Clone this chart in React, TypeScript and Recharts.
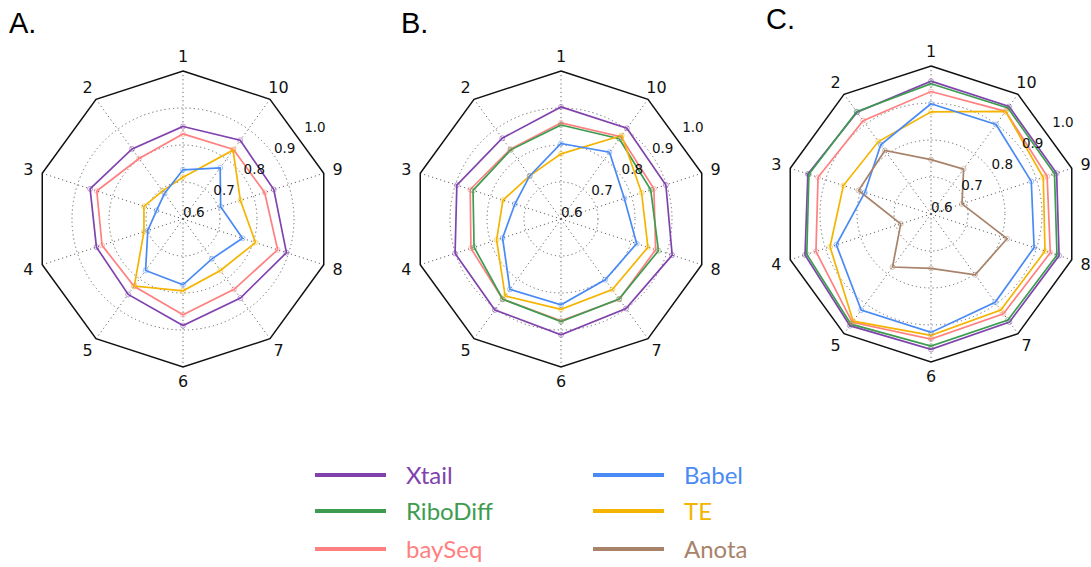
import * as React from "react";
import {
  RadarChart,
  Radar,
  PolarGrid,
  PolarAngleAxis,
  PolarRadiusAxis,
} from "recharts";

// axis labels; the chart runs counter-clockwise from the top
const categories = ["1", "2", "3", "4", "5", "6", "7", "8", "9", "10"];
const radialTicks = [0.6, 0.7, 0.8, 0.9, 1.0];
const gridTicks = [0.7, 0.8, 0.9];

// panel A
const xtailA = [0.85, 0.834, 0.864, 0.846, 0.852, 0.888, 0.864, 0.894, 0.858, 0.863];
const baySeqA = [0.83, 0.802, 0.845, 0.83, 0.825, 0.859, 0.835, 0.869, 0.832, 0.832];
const teA = [0.713, 0.694, 0.711, 0.711, 0.824, 0.794, 0.772, 0.806, 0.763, 0.83];
const babelA = [0.733, 0.685, 0.675, 0.7, 0.772, 0.778, 0.733, 0.769, 0.707, 0.771];

// panel B
const xtailB = [0.903, 0.87, 0.896, 0.901, 0.904, 0.913, 0.899, 0.916, 0.898, 0.903];
const riboB = [0.854, 0.831, 0.85, 0.847, 0.868, 0.877, 0.867, 0.877, 0.855, 0.868];
const baySeqB = [0.86, 0.833, 0.858, 0.856, 0.868, 0.875, 0.868, 0.869, 0.864, 0.875];
const teB = [0.776, 0.744, 0.765, 0.783, 0.857, 0.844, 0.836, 0.847, 0.829, 0.879];
const babelB = [0.804, 0.744, 0.731, 0.766, 0.835, 0.832, 0.803, 0.815, 0.78, 0.823];

// panel C
const xtailC = [0.959, 0.94, 0.95, 0.958, 0.973, 0.966, 0.961, 0.964, 0.957, 0.959];
const riboC = [0.952, 0.942, 0.947, 0.953, 0.968, 0.957, 0.954, 0.958, 0.951, 0.954];
const baySeqC = [0.931, 0.912, 0.921, 0.927, 0.962, 0.938, 0.933, 0.939, 0.93, 0.943];
const teC = [0.876, 0.842, 0.849, 0.887, 0.958, 0.928, 0.921, 0.924, 0.919, 0.943];
const babelC = [0.898, 0.831, 0.788, 0.869, 0.921, 0.92, 0.895, 0.893, 0.885, 0.899];
const anotaC = [0.747, 0.812, 0.806, 0.686, 0.777, 0.747, 0.803, 0.816, 0.688, 0.75];

const COLORS: Record<string, string> = {
  Xtail: "#8043ad",
  RiboDiff: "#3d9c4f",
  baySeq: "#ff8080",
  Babel: "#4a8af4",
  TE: "#f4b400",
  Anota: "#a8836a",
};

const legendLeft = ["Xtail", "RiboDiff", "baySeq"];
const legendRight = ["Babel", "TE", "Anota"];

const W = 360;
const H = 420;
const CX = 180;
const CY = 210;
const R = 148;
const DOMAIN: [number, number] = [0.6, 1.0];

// recharts goes clockwise, so walk the categories as 1, 10, 9, ... 2
const order = categories.map((_, i) => (i === 0 ? 0 : categories.length - i));

function buildRows(series: Record<string, number[]>) {
  return order.map((i) => {
    const row: Record<string, any> = { axis: categories[i] };
    Object.keys(series).forEach((k) => (row[k] = series[k][i]));
    return row;
  });
}

const panels = [
  { title: "A.", titleX: 9, titleY: 9, cx: 182.5, cy: 219.3, series: { Xtail: xtailA, baySeq: baySeqA, TE: teA, Babel: babelA } },
  { title: "B.", titleX: 401, titleY: 9, cx: 560.7, cy: 219, series: { Xtail: xtailB, baySeq: baySeqB, RiboDiff: riboB, TE: teB, Babel: babelB } },
  { title: "C.", titleX: 766, titleY: 5, cx: 930.7, cy: 214, series: { Xtail: xtailC, RiboDiff: riboC, baySeq: baySeqC, TE: teC, Babel: babelC, Anota: anotaC } },
];

const gridRadii = gridTicks.map((v) => (R * (v - DOMAIN[0])) / (DOMAIN[1] - DOMAIN[0]));

function AngleTick(props: any) {
  const { x, y, payload } = props;
  return (
    <text x={x} y={y} dy="0.36em" textAnchor="middle" fontSize={16} fill="#111" fontFamily="DejaVu Sans">
      {payload.value}
    </text>
  );
}

function RadiusTick(props: any) {
  const { x, y, payload } = props;
  return (
    <text x={x} y={y - 2.5} textAnchor="start" fontSize={13.5} fill="#111" fontFamily="DejaVu Sans">
      {payload.value.toFixed(1)}
    </text>
  );
}

function Panel({ p }: { p: (typeof panels)[number] }) {
  const rows = buildRows(p.series);
  return (
    <div style={{ position: "absolute", left: p.cx - CX, top: p.cy - CY, width: W, height: H }}>
      <RadarChart
        width={W}
        height={H}
        data={rows}
        cx={CX}
        cy={CY}
        outerRadius={R}
        margin={{ top: 0, right: 0, bottom: 0, left: 0 }}
      >
        <PolarGrid
          gridType="circle"
          polarRadius={gridRadii}
          stroke="#666"
          strokeDasharray="1.2 3"
          strokeWidth={1}
        />
        <PolarAngleAxis
          dataKey="axis"
          axisLineType="polygon"
          axisLine={{ stroke: "#111", strokeWidth: 1.5 }}
          tickLine={false}
          tickSize={14.5}
          tick={<AngleTick />}
        />
        <PolarRadiusAxis
          domain={DOMAIN}
          ticks={radialTicks}
          angle={35}
          axisLine={false}
          tickLine={false}
          tick={<RadiusTick />}
        />
        {Object.keys(p.series).map((k) => (
          <Radar
            key={k}
            dataKey={k}
            stroke={COLORS[k]}
            strokeWidth={1.7}
            fill="none"
            fillOpacity={0}
            dot={{ r: 2.5, fill: COLORS[k], stroke: COLORS[k], strokeWidth: 0.5 }}
            isAnimationActive={false}
          />
        ))}
      </RadarChart>
    </div>
  );
}

function LegendItem({ name, x, y }: { name: string; x: number; y: number }) {
  return (
    <div style={{ position: "absolute", left: x, top: y - 20, height: 40 }}>
      <div style={{ position: "absolute", left: 0, top: 18, width: 71, height: 4, background: COLORS[name] }} />
      <div
        style={{
          position: "absolute",
          left: 91,
          top: 0,
          height: 40,
          lineHeight: "40px",
          fontFamily: "Lato",
          fontSize: 24,
          color: COLORS[name],
          whiteSpace: "nowrap",
        }}
      >
        {name}
      </div>
    </div>
  );
}

const legendRows = [475, 511, 549];

export default function App() {
  return (
    <div style={{ position: "absolute", left: 0, top: 0, width: 1091, height: 567, background: "#fff", overflow: "hidden" }}>
      {panels.map((p) => (
        <div
          key={p.title}
          style={{
            position: "absolute",
            left: p.titleX,
            top: p.titleY,
            fontFamily: "Liberation Sans",
            fontSize: 29,
            lineHeight: "29px",
            color: "#000",
          }}
        >
          {p.title}
        </div>
      ))}
      {panels.map((p) => (
        <Panel key={p.title} p={p} />
      ))}
      {legendLeft.map((n, i) => (
        <LegendItem key={n} name={n} x={315} y={legendRows[i]} />
      ))}
      {legendRight.map((n, i) => (
        <LegendItem key={n} name={n} x={593} y={legendRows[i]} />
      ))}
    </div>
  );
}
